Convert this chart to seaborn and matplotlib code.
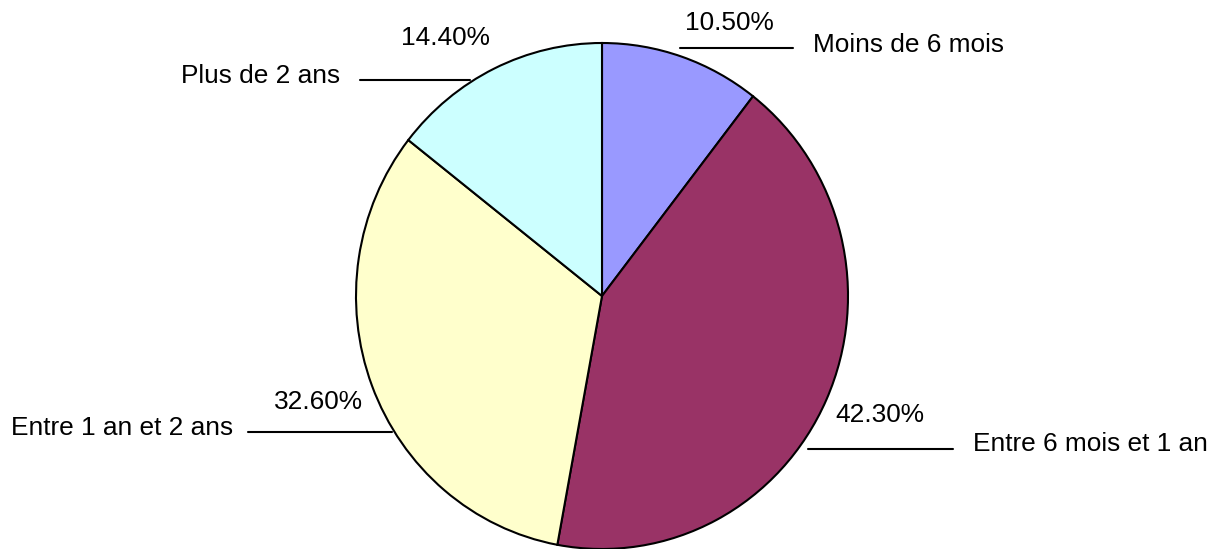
import matplotlib
matplotlib.use("Agg")
import matplotlib.pyplot as plt
import seaborn as sns

categories = ["Moins de 6 mois", "Entre 6 mois et 1 an", "Entre 1 an et 2 ans", "Plus de 2 ans"]
values = [10.5, 42.3, 32.6, 14.4]
pct_labels = ["10.50%", "42.30%", "32.60%", "14.40%"]
colors = ["#9999FF", "#993366", "#FFFFCC", "#CCFFFF"]

sns.set_theme(style="white")
plt.rcParams['font.family'] = ['Liberation Sans', 'DejaVu Sans']

W, H = 1213, 549
fig = plt.figure(figsize=(W / 100, H / 100), dpi=100)
ax = fig.add_axes([0, 0, 1, 1])

RX, RY = 246.0, 253.0
sy = RX / RY  # vertical data-unit scale so the pie is slightly elliptical

def px(x, y):
    return x, (H - y) * sy

cx, cy = px(602, 296)
ax.pie(values, colors=colors, startangle=90, counterclock=False,
       radius=RX, center=(cx, cy),
       wedgeprops=dict(edgecolor="black", linewidth=1.5))
ax.set_aspect("auto")
ax.set_xlim(0, W)
ax.set_ylim(0, H * sy)
ax.axis("off")

fs = 18.9
# (category label pos, pct label pos, leader line x0, x1, y)
layout = [
    ((813, 45, "left"), (729, 23), (680, 793, 48)),
    ((973, 444, "left"), (880, 415), (808, 953, 449)),
    ((233, 428, "right"), (318, 402), (248, 392, 432)),
    ((340, 76, "right"), (445, 38), (360, 470, 80)),
]
for cat, pct, (lab, pp, ln) in zip(categories, pct_labels, layout):
    x, y = px(lab[0], lab[1])
    ax.text(x, y, cat, ha=lab[2], va="center", fontsize=fs, color="black")
    x, y = px(pp[0], pp[1])
    ax.text(x, y, pct, ha="center", va="center", fontsize=fs, color="black")
    x0, y0 = px(ln[0], ln[2])
    x1, _ = px(ln[1], ln[2])
    ax.plot([x0, x1], [y0, y0], color="black", linewidth=1.5)

fig.savefig("out.png", dpi=100, facecolor="white")
